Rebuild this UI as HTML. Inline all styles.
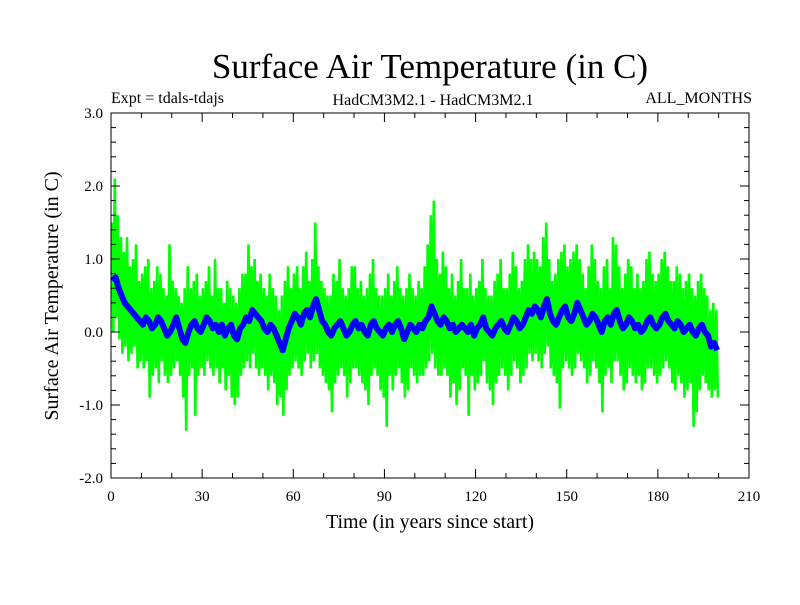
<!DOCTYPE html>
<html><head><meta charset="utf-8"><style>
body{margin:0;background:#fff}
svg text{font-family:"Liberation Serif",serif;fill:#000}
</style></head><body>
<svg width="800" height="600" xmlns="http://www.w3.org/2000/svg">
<rect width="800" height="600" fill="#fff"/>
<text x="430" y="78" font-size="35" text-anchor="middle">Surface Air Temperature (in C)</text>
<text x="111" y="103" font-size="16">Expt = tdals-tdajs</text>
<text x="433" y="105" font-size="16" text-anchor="middle">HadCM3M2.1 - HadCM3M2.1</text>
<text x="752" y="103" font-size="16" text-anchor="end">ALL_MONTHS</text>
<text x="430" y="528" font-size="20" text-anchor="middle">Time (in years since start)</text>
<text transform="translate(58,296) rotate(-90)" font-size="20" text-anchor="middle">Surface Air Temperature (in C)</text>
<g id="plot"></g>
</svg>
<script>
const xTicks=[0,30,60,90,120,150,180,210];
const yTicks=[-2,-1,0,1,2,3];
const yTickLabels=["-2.0","-1.0","0.0","1.0","2.0","3.0"];
const blue=[0.7,0.75,0.6,0.5,0.4,0.35,0.3,0.25,0.2,0.15,
0.1,0.2,0.15,0.05,0.1,0.2,0.15,0.05,-0.05,0.0,
0.1,0.2,0.05,-0.1,-0.15,0.0,0.1,0.15,0.05,0.0,
0.1,0.2,0.15,0.05,0.1,0.0,0.1,-0.05,0.05,0.1,
-0.05,-0.1,0.05,0.1,0.2,0.15,0.3,0.25,0.2,0.15,
0.05,0.0,0.1,0.05,-0.05,-0.15,-0.25,-0.1,0.05,0.15,
0.25,0.2,0.1,0.25,0.3,0.2,0.35,0.45,0.3,0.15,
0.1,0.0,-0.05,0.05,0.1,0.15,0.05,-0.05,0.0,0.1,
0.15,0.05,0.1,0.0,-0.05,0.1,0.15,0.05,0.0,-0.05,
0.05,0.1,0.0,0.1,0.15,0.05,-0.1,0.0,0.1,0.05,
0.0,0.1,0.05,0.15,0.2,0.35,0.25,0.15,0.1,0.2,
0.15,0.05,0.1,0.0,0.05,0.1,0.05,0.0,0.1,-0.05,
0.05,0.1,0.2,0.05,0.0,-0.05,0.05,0.1,0.15,0.05,
0.0,0.1,0.2,0.15,0.05,0.1,0.2,0.3,0.25,0.35,
0.3,0.2,0.35,0.45,0.25,0.15,0.1,0.2,0.3,0.35,
0.2,0.15,0.25,0.4,0.3,0.2,0.1,0.15,0.25,0.2,
0.1,0.0,0.15,0.2,0.1,0.25,0.3,0.15,0.05,0.1,
0.2,0.15,0.05,0.1,0.0,0.05,0.15,0.2,0.1,0.05,
0.1,0.2,0.25,0.15,0.1,0.05,0.15,0.1,0.0,0.05,
0.1,0.0,-0.05,0.05,0.1,0.0,-0.05,-0.2,-0.15,-0.25];
const greenHi=[1.5,2.1,1.6,1.3,1.1,1.3,0.9,1.0,1.2,0.7,
0.8,0.9,1.0,0.6,0.7,0.9,0.8,0.6,0.5,1.2,
0.7,0.6,0.5,0.4,0.6,0.9,0.6,0.7,0.8,0.5,
0.6,0.7,0.9,0.5,1.0,0.6,0.6,0.4,0.7,0.6,
0.5,0.4,0.6,0.8,0.8,1.2,0.9,1.0,0.7,0.8,
0.6,0.5,0.8,0.6,0.5,0.3,0.5,0.7,0.9,0.6,
0.8,0.9,0.6,0.9,1.1,0.7,1.0,1.5,0.9,0.7,
0.6,0.5,0.5,0.8,0.7,1.0,0.6,0.5,0.6,0.9,
0.9,0.6,0.7,0.5,0.6,0.8,1.0,0.6,0.5,0.5,
0.6,0.8,0.5,0.7,0.9,0.6,0.5,0.6,0.8,0.6,
0.5,0.7,0.6,0.9,1.2,1.6,1.8,1.0,0.8,1.1,
0.9,0.6,0.8,0.5,0.7,1.0,0.6,0.6,0.8,0.5,
0.6,0.7,1.0,0.6,0.5,0.5,0.7,0.8,1.0,0.6,
0.6,0.8,1.1,0.9,0.6,0.7,1.0,1.2,1.0,1.1,
1.0,0.9,1.3,1.5,1.0,0.7,0.8,1.0,1.1,1.2,
0.9,1.0,1.1,1.2,1.0,0.8,0.6,0.9,1.2,1.0,
0.7,0.6,0.9,1.0,0.6,1.3,1.2,0.9,0.6,0.8,
1.0,0.9,0.6,0.8,0.6,0.7,1.0,1.1,0.8,0.7,
0.8,1.0,1.1,0.9,0.7,0.7,0.9,0.8,0.6,0.7,
0.8,0.6,0.5,0.7,0.8,0.6,0.5,0.3,0.4,0.3];
const greenLo=[0.0,0.2,-0.1,-0.3,-0.2,-0.4,-0.3,-0.2,-0.5,-0.4,
-0.5,-0.4,-0.9,-0.6,-0.5,-0.7,-0.4,-0.6,-0.7,-0.6,
-0.5,-0.4,-0.6,-0.9,-1.35,-0.6,-0.5,-1.15,-0.6,-0.5,
-0.6,-0.4,-0.5,-0.6,-0.5,-0.7,-0.5,-0.8,-0.6,-0.9,
-1.0,-0.9,-0.6,-0.5,-0.4,-0.5,-0.3,-0.5,-0.6,-0.5,
-0.6,-0.8,-0.6,-0.7,-1.0,-0.9,-1.15,-0.8,-0.6,-0.5,
-0.4,-0.5,-0.6,-0.4,-0.3,-0.5,-0.4,-0.3,-0.5,-0.6,
-0.7,-0.8,-1.1,-0.7,-0.6,-0.5,-0.6,-0.9,-0.7,-0.5,
-0.5,-0.6,-0.7,-0.8,-1.0,-0.6,-0.5,-0.6,-0.8,-0.9,
-1.3,-0.6,-0.8,-0.6,-0.5,-0.7,-0.9,-0.8,-0.5,-0.6,
-0.7,-0.6,-0.6,-0.5,-0.4,-0.3,-0.5,-0.6,-0.6,-0.5,
-0.6,-0.9,-0.7,-1.0,-0.8,-0.5,-0.6,-1.15,-0.6,-0.8,
-0.7,-0.6,-0.4,-0.7,-0.8,-1.0,-0.7,-0.6,-0.5,-0.6,
-0.8,-0.6,-0.4,-0.5,-0.7,-0.6,-0.5,-0.3,-0.4,-0.3,
-0.4,-0.5,-0.3,-0.2,-0.5,-0.6,-0.7,-1.05,-0.5,-0.4,
-0.5,-0.6,-0.5,-0.3,-0.4,-0.5,-0.7,-0.6,-0.4,-0.5,
-0.7,-1.1,-0.6,-0.5,-0.7,-0.4,-0.4,-0.6,-0.8,-0.7,
-0.5,-0.6,-0.7,-0.6,-0.8,-0.7,-0.5,-0.5,-0.6,-0.7,
-0.6,-0.5,-0.4,-0.5,-0.7,-0.8,-0.6,-0.7,-0.9,-0.8,
-0.7,-1.3,-1.1,-0.8,-0.6,-0.7,-0.8,-0.9,-0.8,-0.9];

const X0=111,X1=749,Y0=478,Y1=113;
function sx(v){return X0+(v-0)/(210-0)*(X1-X0);}
function sy(v){return Y0-(v-(-2))/(3-(-2))*(Y0-Y1);}
const NS="http://www.w3.org/2000/svg";
const g=document.getElementById('plot');
function mk(t,a){const e=document.createElementNS(NS,t);for(const k in a)e.setAttribute(k,a[k]);g.appendChild(e);return e;}

let gp=[];
for(let i=0;i<greenHi.length;i++){
  gp.push(sx(i+0.25).toFixed(1)+','+sy(greenHi[i]).toFixed(1));
  gp.push(sx(i+0.75).toFixed(1)+','+sy(greenLo[i]).toFixed(1));
}
const gl=mk('polyline',{points:gp.join(' '),fill:'none',stroke:'#00ff00','stroke-width':2.6,'stroke-linejoin':'miter'});



let bp=[];
for(let i=0;i<blue.length;i++){
  bp.push(sx(i+0.5).toFixed(1)+','+sy(blue[i]).toFixed(1));
}
const bl=mk('polyline',{points:bp.join(' '),fill:'none',stroke:'#0000ff','stroke-width':6,'stroke-linejoin':'round'});



const fr=mk('rect',{x:X0,y:Y1,width:X1-X0,height:Y0-Y1,fill:'none',stroke:'#000','stroke-width':1});



for(let v=-2;v<=3.001;v+=0.2){
  const y=sy(v),major=Math.abs(v-Math.round(v))<1e-6,L=major?9:5;
  const t1=mk('line',{x1:X0,x2:X0+L,y1:y,y2:y,stroke:'#000'});
  
  
  const t2=mk('line',{x1:X1,x2:X1-L,y1:y,y2:y,stroke:'#000'});
  
  
}
yTicks.forEach((v,i)=>{
  const t=mk('text',{x:X0-8,y:sy(v)+5,'font-size':15,'text-anchor':'end'});
  t.textContent=yTickLabels[i];
  
  
});
for(let v=0;v<=210;v+=10){
  const x=sx(v),L=(v%30===0)?9:5;
  const t1=mk('line',{x1:x,x2:x,y1:Y0,y2:Y0-L,stroke:'#000'});
  
  
  const t2=mk('line',{x1:x,x2:x,y1:Y1,y2:Y1+L,stroke:'#000'});
  
  
}
xTicks.forEach(v=>{
  const t=mk('text',{x:sx(v),y:Y0+23,'font-size':15,'text-anchor':'middle'});
  t.textContent=String(v);
  
  
});
</script>
</body></html>
